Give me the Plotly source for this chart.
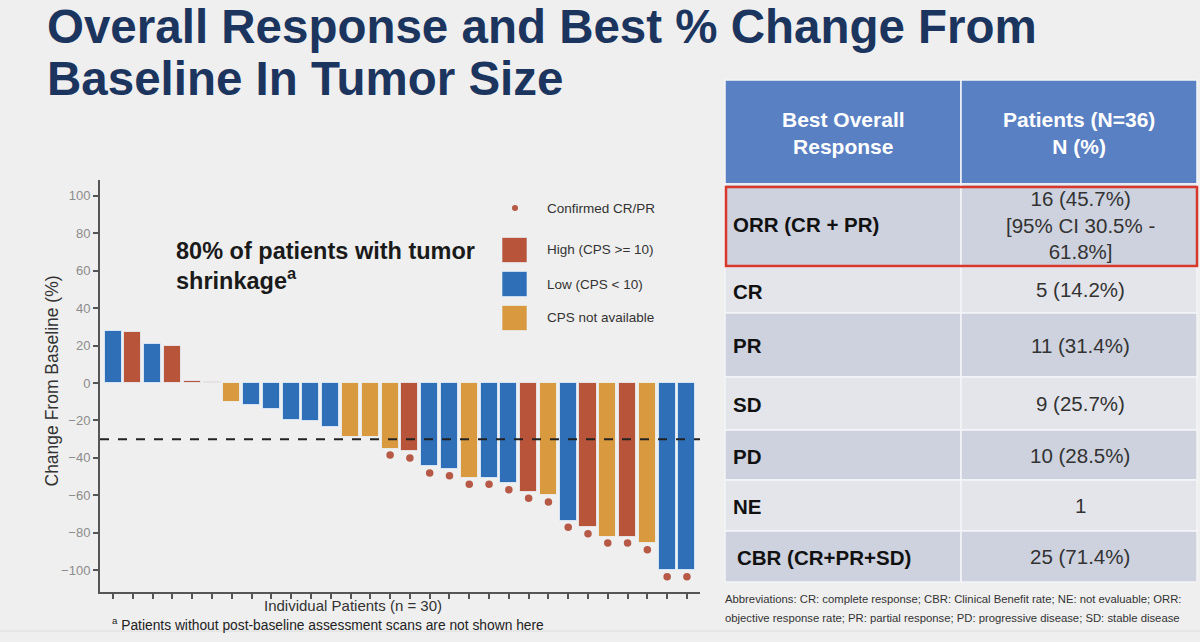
import plotly.graph_objects as go

# ---------------- data ----------------
patients = list(range(1, 31))
change_pct = [28, 27, 21, 20, 1, 0.5, -10, -12, -14, -19.5, -20.5, -23.5, -29, -29,
              -35, -36.5, -44.5, -46, -50.5, -50.5, -53.5, -58, -60, -73.5, -77,
              -82, -82, -85.5, -100, -100]
cps_group = ["Low", "High", "Low", "High", "High", "High", "NA", "Low", "Low", "Low",
             "Low", "Low", "NA", "NA", "NA", "High", "Low", "Low", "NA", "Low",
             "Low", "High", "NA", "Low", "High", "NA", "High", "NA", "Low", "Low"]
confirmed = [False] * 14 + [True] * 16
threshold = -30
y_ticks = [100, 80, 60, 40, 20, 0, -20, -40, -60, -80, -100]

legend_labels = ["Confirmed CR/PR", "High (CPS >= 10)", "Low (CPS < 10)", "CPS not available"]

table_header = ["Best Overall<br>Response", "Patients (N=36)<br>N (%)"]
table_labels = ["ORR (CR + PR)", "CR", "PR", "SD", "PD", "NE", "CBR (CR+PR+SD)"]
table_values = ["16 (45.7%)<br>[95% CI 30.5% -<br>61.8%]", "5 (14.2%)", "11 (31.4%)",
                "9 (25.7%)", "10 (28.5%)", "1", "25 (71.4%)"]

# ---------------- styling ----------------
W, H = 1200, 642
FONT = "Liberation Sans, Arial, sans-serif"
COLORS = {"High": "#b8543a", "Low": "#2f6fb7", "NA": "#d9993f"}
DOT = "#b65a47"
NAVY = "#1c355e"


def px(x):
    return x / W


def py(y):
    return 1 - y / H


fig = go.Figure()

fig.add_trace(go.Bar(
    x=patients, y=change_pct,
    marker=dict(color=[COLORS[g] for g in cps_group],
                line=dict(color="rgba(235,245,255,0.75)", width=1)),
    width=0.86, showlegend=False, hoverinfo="x+y",
))

cx = [p for p, c in zip(patients, confirmed) if c]
cy = [v - 3.5 for v, c in zip(change_pct, confirmed) if c]
fig.add_trace(go.Scatter(
    x=cx, y=cy, mode="markers",
    marker=dict(color=DOT, size=7.5, line=dict(width=0)),
    showlegend=False, hoverinfo="skip",
))

# plot area in pixels: x 100..700, y 180..592
fig.update_layout(
    width=W, height=H,
    margin=dict(l=0, r=0, t=0, b=0),
    paper_bgcolor="#efefef", plot_bgcolor="rgba(0,0,0,0)",
    bargap=0, showlegend=False,
    font=dict(family=FONT, color="#333333"),
    xaxis=dict(domain=[px(100), px(700)], range=[0.34, 30.66],
               showgrid=False, zeroline=False, showline=True, linecolor="#555555",
               linewidth=2, ticks="outside", ticklen=5, tickwidth=1.5,
               tickcolor="#555555", tickvals=patients, showticklabels=False),
    yaxis=dict(domain=[py(592), py(180)], range=[-111.6, 108.4],
               showgrid=False, zeroline=False, showline=True, linecolor="#555555",
               linewidth=2, ticks="outside", ticklen=5, tickwidth=1.5,
               tickcolor="#555555", tickvals=y_ticks,
               tickfont=dict(size=13, color="#8c8c8c", family=FONT)),
)

# dashed threshold
fig.add_shape(type="line", xref="paper", yref="y", x0=px(100), x1=px(700),
              y0=threshold, y1=threshold,
              line=dict(color="#222222", width=2, dash="dash"))

shapes = []
ann = []


def text(x, y, s, size, color="#333333", bold=False, xanchor="left", angle=0):
    ann.append(dict(x=px(x), y=py(y), xref="paper", yref="paper", text=(f"<b>{s}</b>" if bold else s),
                    showarrow=False, xanchor=xanchor, yanchor="middle", textangle=angle,
                    font=dict(family=FONT, size=size, color=color)))


# title
text(45, 27, "Overall Response and Best % Change From", 47.5, NAVY, True)
text(45, 78, "Baseline In Tumor Size", 47.5, NAVY, True)

# chart annotation
text(174, 251, "80% of patients with tumor", 23.5, "#1a1a1a", True)
text(174, 279, "shrinkage<sup>a</sup>", 23.5, "#1a1a1a", True)

# axis titles
text(51.5, 381, "Change From Baseline (%)", 17.5, "#333333", angle=-90, xanchor="center")
text(353, 605, "Individual Patients (n = 30)", 15, "#333333", xanchor="center")
text(110, 624, "<sup>a</sup> Patients without post-baseline assessment scans are not shown here",
     13.8, "#222222")

# legend
leg_y = [208, 250, 284, 318]
ann_leg_colors = [None, COLORS["High"], COLORS["Low"], COLORS["NA"]]
shapes.append(dict(type="circle", xref="paper", yref="paper",
                   x0=px(512), x1=px(518), y0=py(205), y1=py(211),
                   fillcolor=DOT, line=dict(width=0)))
for yy, col, lab in zip(leg_y, ann_leg_colors, legend_labels):
    if col:
        shapes.append(dict(type="rect", xref="paper", yref="paper",
                           x0=px(502), x1=px(527), y0=py(yy - 12.5), y1=py(yy + 12.5),
                           fillcolor=col, line=dict(color="rgba(235,245,255,0.6)", width=1)))
    text(545, yy, lab, 13.5, "#333333")

# table
TX0, TXD, TX1 = 725, 961, 1197
row_edges = [80, 184, 267, 313, 377, 430, 480, 531, 582]
HEADER = "#5a80c4"
DARK = "#cdd2de"
LIGHT = "#e3e5ea"
shapes.append(dict(type="rect", xref="paper", yref="paper", x0=px(TX0), x1=px(TX1),
                   y0=py(row_edges[-1]), y1=py(row_edges[0]), fillcolor="#f4f5f7",
                   line=dict(width=0)))
# header
for (a, b) in [(TX0, TXD), (TXD, TX1)]:
    shapes.append(dict(type="rect", xref="paper", yref="paper", x0=px(a), x1=px(b),
                       y0=py(row_edges[1]), y1=py(row_edges[0]), fillcolor=HEADER,
                       line=dict(color="#f4f5f7", width=1.5)))
text((TX0 + TXD) / 2, 133, table_header[0], 21, "#ffffff", True, "center")
text((TXD + TX1) / 2, 133, table_header[1], 21, "#ffffff", True, "center")

for i, (lab, val) in enumerate(zip(table_labels, table_values)):
    top, bot = row_edges[i + 1], row_edges[i + 2]
    fill = DARK if i % 2 == 0 else LIGHT
    for (a, b) in [(TX0, TXD), (TXD, TX1)]:
        shapes.append(dict(type="rect", xref="paper", yref="paper", x0=px(a), x1=px(b),
                           y0=py(bot), y1=py(top), fillcolor=fill,
                           line=dict(color="#f4f5f7", width=1.5)))
    mid = (top + bot) / 2
    lx = 735 if i == len(table_labels) - 1 else 731
    text(lx, mid + (-1 if i == 0 else 1), lab, 20.5, "#111111", True)
    text((TXD + TX1) / 2 + 1, mid, val, 20.5, "#333333", False, "center")

# red highlight box on ORR row
shapes.append(dict(type="rect", xref="paper", yref="paper", x0=px(726), x1=px(1197),
                   y0=py(266), y1=py(187), fillcolor="rgba(0,0,0,0)",
                   line=dict(color="#d8372c", width=2.5)))

# abbreviations
text(723, 599, "Abbreviations: CR: complete response; CBR: Clinical Benefit rate; NE: not evaluable; ORR:",
     11.3, "#333333")
text(723, 618, "objective response rate; PR: partial response; PD: progressive disease; SD: stable disease",
     11.3, "#333333")

# faint bottom line of slide
shapes.append(dict(type="line", xref="paper", yref="paper", x0=0, x1=1,
                   y0=py(631), y1=py(631), line=dict(color="#dcdcdc", width=1)))

for s in shapes:
    fig.add_shape(**s)
fig.update_layout(annotations=ann)

fig.write_html("out.html", config={"displayModeBar": False},
               post_script="document.body.style.margin='0';document.body.style.overflow='hidden';")
